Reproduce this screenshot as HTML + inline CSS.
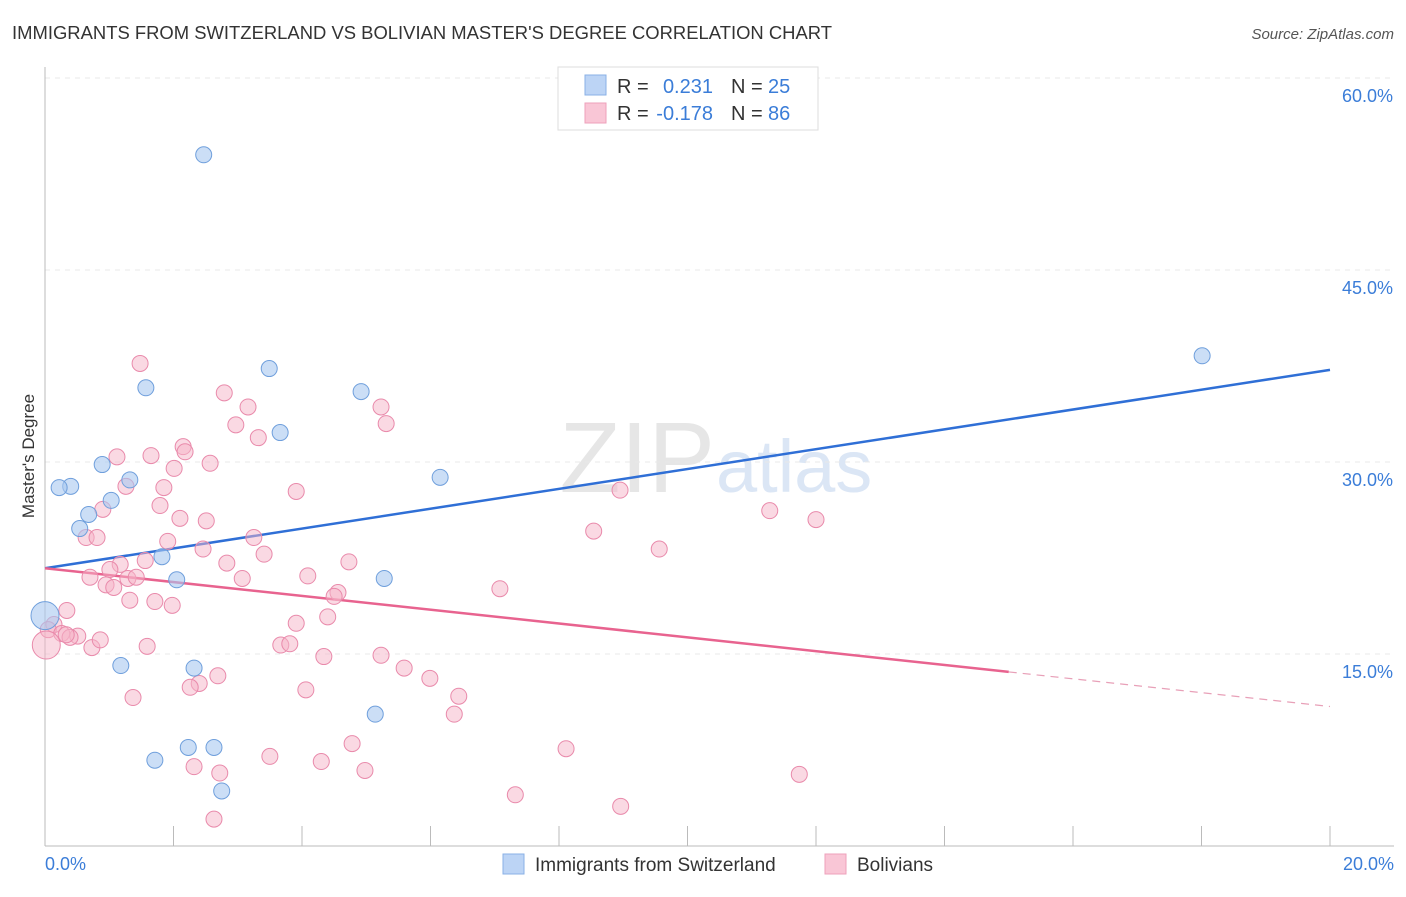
<!DOCTYPE html>
<html><head><meta charset="utf-8"><style>
body{margin:0;background:#fff;font-family:"Liberation Sans",sans-serif}
svg text{font-family:"Liberation Sans",sans-serif}
</style></head><body>
<svg id="c" width="1406" height="892" xmlns="http://www.w3.org/2000/svg">
<text x="12" y="39" font-size="18" fill="#333" textLength="820" lengthAdjust="spacingAndGlyphs">IMMIGRANTS FROM SWITZERLAND VS BOLIVIAN MASTER'S DEGREE CORRELATION CHART</text>
<text x="1394" y="39" font-size="15" fill="#555" font-style="italic" text-anchor="end">Source: ZipAtlas.com</text>
<text x="715" y="492" font-size="100" fill="#e6e6e6" text-anchor="end" font-family="Liberation Serif">ZIP</text>
<text x="716" y="492" font-size="74" fill="#dbe6f5">atlas</text>
<g id="grid"></g><g id="axes"></g><g id="lines"></g><g id="pts"></g>
<g>
<rect x="558" y="67" width="260" height="63" fill="#fff" stroke="#ddd"/>
<rect x="585" y="75" width="21" height="20" fill="#bcd4f5" stroke="#8ab0e6"/>
<rect x="585" y="103" width="21" height="20" fill="#f9c6d6" stroke="#eea0bb"/>
<text x="617" y="93" font-size="20" fill="#333">R = </text><text x="713" y="93" font-size="20" fill="#3b7dd8" text-anchor="end">0.231</text>
<text x="731" y="93" font-size="20" fill="#333">N = </text><text x="768" y="93" font-size="20" fill="#3b7dd8">25</text>
<text x="617" y="120" font-size="20" fill="#333">R = </text><text x="713" y="120" font-size="20" fill="#3b7dd8" text-anchor="end">-0.178</text>
<text x="731" y="120" font-size="20" fill="#333">N = </text><text x="768" y="120" font-size="20" fill="#3b7dd8">86</text>
</g>
<text x="34" y="456" font-size="17" fill="#333" text-anchor="middle" transform="rotate(-90 34 456)">Master's Degree</text>
<g>
<rect x="503" y="854" width="21" height="20" fill="#bcd4f5" stroke="#8ab0e6"/>
<text x="535" y="871" font-size="19" fill="#333">Immigrants from Switzerland</text>
<rect x="825" y="854" width="21" height="20" fill="#f9c6d6" stroke="#eea0bb"/>
<text x="857" y="871" font-size="19" fill="#333">Bolivians</text>
</g>
</svg>
<script>
const yTicks=[15,30,45,60];
const xTickLabels=["0.0%","20.0%"];
const blueX=[2.47,3.49,1.57,4.92,3.66,0.89,0.40,0.22,1.32,1.03,0.68,0.54,1.82,2.05,5.28,6.15,18.01,0,1.18,2.32,5.14,1.71,2.23,2.63,2.75];
const blueY=[54.0,37.3,35.8,35.5,32.3,29.8,28.1,28.0,28.6,27.0,25.9,24.8,22.6,20.8,20.9,28.8,38.3,18.0,14.1,13.9,10.3,6.7,7.7,7.7,4.3];
const pinkX=[1.48,2.79,3.16,5.23,2.97,5.31,3.32,2.15,2.18,1.65,1.12,2.57,2.01,1.85,1.26,3.91,8.95,1.79,0.90,2.10,2.51,11.28,12.0,8.54,0.64,0.81,3.25,1.91,2.46,9.56,3.41,1.56,4.73,2.83,1.17,1.01,4.09,0.70,1.29,1.42,3.07,0.95,1.07,7.08,4.56,4.50,1.71,1.98,0.34,4.40,3.91,0.14,0.05,0.26,0.51,0.39,0.33,0.02,0.73,1.59,3.67,3.81,4.34,5.23,5.59,2.69,5.99,2.40,2.26,4.06,6.44,1.37,6.37,4.78,8.11,3.50,4.30,2.32,2.72,4.98,11.74,7.32,8.96,2.63,0.86,1.32];
const pinkY=[37.7,35.4,34.3,34.3,32.9,33.0,31.9,31.2,30.8,30.5,30.4,29.9,29.5,28.0,28.1,27.7,27.8,26.6,26.3,25.6,25.4,26.2,25.5,24.6,24.1,24.1,24.1,23.8,23.2,23.2,22.8,22.3,22.2,22.1,22.0,21.6,21.1,21.0,20.9,21.0,20.9,20.4,20.2,20.1,19.8,19.5,19.1,18.8,18.4,17.9,17.4,17.3,16.9,16.6,16.4,16.3,16.5,15.7,15.5,15.6,15.7,15.8,14.8,14.9,13.9,13.3,13.1,12.7,12.4,12.2,11.7,11.6,10.3,8.0,7.6,7.0,6.6,6.2,5.7,5.9,5.6,4.0,3.1,2.1,16.1,19.2];
const blueTrend=[21.7,37.2];
const pinkTrend=[21.7,10.9];
const pinkSolidEnd=15.0;
const bigBlue=[17], bigPink=[57];

const X=v=>45+v*64.25, Y=v=>846-v*12.8;
const NS="http://www.w3.org/2000/svg";
function mk(p,t,a){const e=document.createElementNS(NS,t);for(const k in a)e.setAttribute(k,a[k]);document.getElementById(p).appendChild(e);return e;}
for(const t of yTicks){
 const g=mk('grid','line',{x1:45,x2:1394,y1:Y(t),y2:Y(t),stroke:'#e8e8e8','stroke-dasharray':'5,5'});
 
 
 const l=mk('grid','text',{x:1393,y:Y(t)+24,'font-size':18,fill:'#3b7dd8','text-anchor':'end'});
 l.textContent=t.toFixed(1)+'%';
 
 
}
const ya=mk('axes','line',{x1:45,x2:45,y1:67,y2:846,stroke:'#bbb'});


const xa=mk('axes','line',{x1:45,x2:1394,y1:846,y2:846,stroke:'#bbb'});


for(let i=0;i<=20;i+=2){
 const t=mk('axes','line',{x1:X(i),x2:X(i),y1:826,y2:846,stroke:'#bbb'});
 
 
}
const xl0=mk('axes','text',{x:45,y:870,'font-size':18,fill:'#3b7dd8'});xl0.textContent=xTickLabels[0];


const xl1=mk('axes','text',{x:1394,y:870,'font-size':18,fill:'#3b7dd8','text-anchor':'end'});xl1.textContent=xTickLabels[1];


const pyAt=x=>pinkTrend[0]+(pinkTrend[1]-pinkTrend[0])*x/20;
const bl=mk('lines','line',{x1:X(0),y1:Y(blueTrend[0]),x2:X(20),y2:Y(blueTrend[1]),stroke:'#2f6fd6','stroke-width':2.5});


const pl=mk('lines','line',{x1:X(0),y1:Y(pyAt(0)),x2:X(pinkSolidEnd),y2:Y(pyAt(pinkSolidEnd)),stroke:'#e8638f','stroke-width':2.5});


const pd=mk('lines','line',{x1:X(pinkSolidEnd),y1:Y(pyAt(pinkSolidEnd)),x2:X(20),y2:Y(pyAt(20)),stroke:'#e8a0b8','stroke-width':1.2,'stroke-dasharray':'8,6'});


pinkX.forEach((x,i)=>{
 const c=mk('pts','circle',{cx:X(x),cy:Y(pinkY[i]),r:bigPink.includes(i)?14:8,fill:'#f5b3c8','fill-opacity':0.5,stroke:'#e98aab','stroke-width':1});
 
 
});
blueX.forEach((x,i)=>{
 const c=mk('pts','circle',{cx:X(x),cy:Y(blueY[i]),r:bigBlue.includes(i)?14:8,fill:'#a9c8f0','fill-opacity':0.6,stroke:'#6f9fdc','stroke-width':1});
 
 
});
</script>
</body></html>
